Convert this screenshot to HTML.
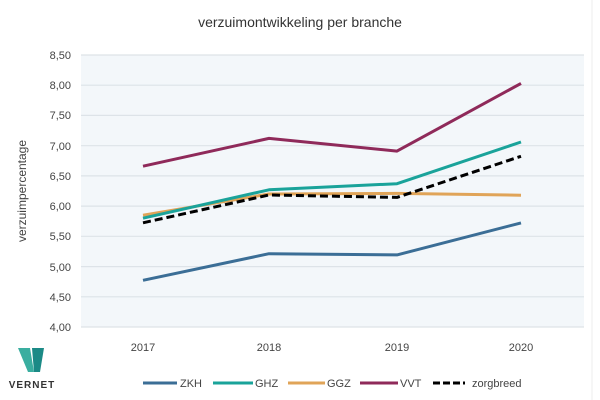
<!DOCTYPE html>
<html><head><meta charset="utf-8"><style>
body{margin:0;background:#fff;}
svg{display:block;font-family:"Liberation Sans",sans-serif;}
</style></head><body>
<svg width="600" height="400" viewBox="0 0 600 400">
<rect width="600" height="400" fill="#fff"/>
<line x1="592" y1="0" x2="592" y2="400" stroke="#eee" stroke-width="1"/>
<text x="300" y="27" text-anchor="middle" font-size="14" fill="#333">verzuimontwikkeling per branche</text>
<rect x="81" y="55" width="503" height="272" fill="#f3f7fa"/>
<g stroke="#dde3e8" stroke-width="1.2">
<line x1="81" x2="584" y1="55" y2="55"/><line x1="81" x2="584" y1="85.2" y2="85.2"/>
<line x1="81" x2="584" y1="115.4" y2="115.4"/><line x1="81" x2="584" y1="145.7" y2="145.7"/>
<line x1="81" x2="584" y1="175.9" y2="175.9"/><line x1="81" x2="584" y1="206.1" y2="206.1"/>
<line x1="81" x2="584" y1="236.3" y2="236.3"/><line x1="81" x2="584" y1="266.6" y2="266.6"/>
<line x1="81" x2="584" y1="296.8" y2="296.8"/><line x1="81" x2="584" y1="327" y2="327"/>
</g>
<g font-size="11" fill="#444" text-anchor="end">
<text x="71" y="59">8,50</text><text x="71" y="89">8,00</text><text x="71" y="119">7,50</text>
<text x="71" y="150">7,00</text><text x="71" y="180">6,50</text><text x="71" y="210">6,00</text>
<text x="71" y="240">5,50</text><text x="71" y="271">5,00</text><text x="71" y="301">4,50</text>
<text x="71" y="331">4,00</text>
</g>
<text transform="translate(26,191) rotate(-90)" text-anchor="middle" font-size="12" fill="#444">verzuimpercentage</text>
<g font-size="11" fill="#444" text-anchor="middle">
<text x="143" y="351">2017</text><text x="269" y="351">2018</text><text x="397" y="351">2019</text><text x="521" y="351">2020</text>
</g>
<g fill="none" stroke-width="3" stroke-linejoin="round">
<polyline stroke="#3b6e96" points="143,280.3 269,253.7 397,254.9 521,222.9"/>
<polyline stroke="#e0a458" points="143,215.2 269,194.0 397,193.4 521,195.2"/>
<polyline stroke="#1aa39a" points="143,218.2 269,189.8 397,183.7 521,142.0"/>
<polyline stroke="#8f2a5a" points="143,166.2 269,138.4 397,151.1 521,83.4"/>
<polyline stroke="#000" stroke-dasharray="8,4" points="143,222.8 269,195.0 397,197.4 521,156.3"/>
</g>
<g font-size="11" fill="#444">
<line x1="143" y1="383" x2="177" y2="383" stroke="#3b6e96" stroke-width="3"/><text x="180" y="387">ZKH</text>
<line x1="213" y1="383" x2="253" y2="383" stroke="#1aa39a" stroke-width="3"/><text x="255" y="387">GHZ</text>
<line x1="288" y1="383" x2="325" y2="383" stroke="#e0a458" stroke-width="3"/><text x="327" y="387">GGZ</text>
<line x1="360" y1="383" x2="398" y2="383" stroke="#8f2a5a" stroke-width="3"/><text x="400" y="387">VVT</text>
<line x1="433" y1="383" x2="465" y2="383" stroke="#000" stroke-width="3" stroke-dasharray="7,3"/><text x="472" y="387">zorgbreed</text>
</g>
<polygon points="18,348 30,348 34,372 28,372" fill="#3aaea0"/>
<polygon points="32,348 44,348 40,372 34,372" fill="#1b8a86"/>
<text x="32" y="388" text-anchor="middle" font-size="10" font-weight="bold" fill="#333" letter-spacing="1">VERNET</text>
</svg>
</body></html>
